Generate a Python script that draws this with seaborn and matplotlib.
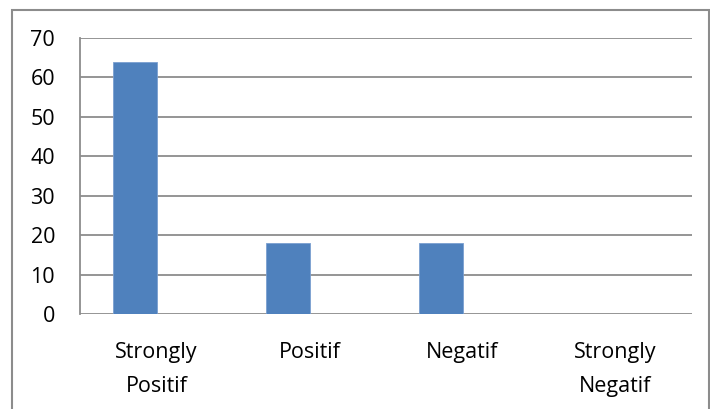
import matplotlib
matplotlib.use("Agg")
import matplotlib.pyplot as plt
import seaborn as sns
import numpy as np
import pandas as pd
from matplotlib.patches import Rectangle

categories = ["Strongly\nPositif", "Positif", "Negatif", "Strongly\nNegatif"]
series_1 = [64, 18, 18, 0]
# the Excel chart holds a second, empty series, which shifts the bars left
series_2 = [np.nan, np.nan, np.nan, np.nan]
y_ticks = [0, 10, 20, 30, 40, 50, 60, 70]

df = pd.DataFrame({
    "category": categories * 2,
    "value": series_1 + series_2,
    "series": ["Series1"] * 4 + ["Series2"] * 4,
})

sns.set_style("white")
plt.rcParams["font.family"] = ["Open Sans", "DejaVu Sans"]

fig = plt.figure(figsize=(7.1, 4.09), dpi=100)
# outer chart frame, like the Excel chart border
fig.patches.append(Rectangle((12 / 710, -0.1), 697 / 710, 1.1 - 10 / 409,
                             transform=fig.transFigure, fill=False,
                             edgecolor="#8c8c8c", linewidth=1.5))

ax = fig.add_axes([80 / 710, 1 - 314 / 409, 612 / 710, 276 / 409])
sns.barplot(data=df, x="category", y="value", hue="series",
            hue_order=["Series1", "Series2"],
            palette=["#4F81BD", "#C0504D"], saturation=1, width=0.57,
            edgecolor="#7a9fd0", linewidth=0.6, legend=False, ax=ax)

ax.set_ylim(0, 70)
ax.set_yticks(y_ticks)
ax.set_xlim(-0.5, 3.5)
ax.grid(axis="y", color="#8c8c8c", linewidth=1.3)
ax.set_axisbelow(True)
for side in ["top", "right", "bottom"]:
    ax.spines[side].set_visible(False)
ax.spines["left"].set_color("#8c8c8c")
ax.spines["left"].set_linewidth(1.3)
ax.tick_params(axis="y", length=0, pad=18, labelsize=15.5, labelcolor="black")
ax.tick_params(axis="x", length=0, pad=20, labelsize=15.5, labelcolor="black")
for lbl in ax.get_xticklabels():
    lbl.set_linespacing(1.8)
ax.set_xlabel("")
ax.set_ylabel("")

fig.savefig("out.png", dpi=100)
